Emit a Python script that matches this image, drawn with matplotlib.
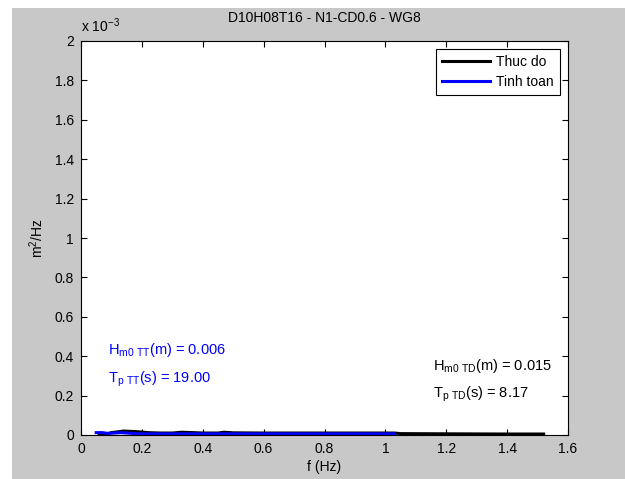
import numpy as np
import matplotlib
matplotlib.use("Agg")
import matplotlib.pyplot as plt
from matplotlib.patches import Rectangle
from matplotlib.ticker import FuncFormatter, MultipleLocator

plt.rcParams['font.family'] = ['Liberation Sans', 'DejaVu Sans']
plt.rcParams['mathtext.fontset'] = 'custom'
plt.rcParams['mathtext.rm'] = 'Liberation Sans'

# measured spectrum (Thuc do)
f_td = [0.06, 0.08, 0.10, 0.12, 0.14, 0.17, 0.20, 0.22, 0.26, 0.30, 0.33, 0.37,
        0.40, 0.45, 0.47, 0.50, 0.60, 0.80, 1.00, 1.03, 1.05, 1.20, 1.40, 1.52]
s_td = [0.0, 4e-6, 1.2e-5, 1.6e-5, 2.0e-5, 1.8e-5, 1.5e-5, 1.2e-5, 1.0e-5, 1.0e-5, 1.4e-5, 1.2e-5,
        1.0e-5, 1.0e-5, 1.4e-5, 1.1e-5, 1.0e-5, 1.0e-5, 1.0e-5, 1.0e-5, 7e-6, 6e-6, 5e-6, 5e-6]

# computed spectrum (Tinh toan)
f_tt = [0.05, 0.07, 0.09, 0.11, 0.13, 0.15, 0.18, 0.20, 0.30, 0.50, 0.70, 0.90, 1.03]
s_tt = [1.2e-5, 1.2e-5, 8e-6, 1.0e-5, 1.2e-5, 1.0e-5, 7e-6, 6e-6, 6e-6, 6e-6, 6e-6, 6e-6, 6e-6]

title = "D10H08T16 - N1-CD0.6 - WG8"
hm0_tt, tp_tt = "0.006", "19.00"
hm0_td, tp_td = "0.015", "8.17"

fs = 10
fig = plt.figure(figsize=(6.25, 4.79), dpi=100, facecolor='white')
fig.patches.append(Rectangle((12 / 625, 0), 1, 1 - 8 / 479, transform=fig.transFigure,
                             facecolor='#c8c8c8', edgecolor='none', zorder=-10))
ax = fig.add_axes([81 / 625, 44 / 479, 487 / 625, 394 / 479])
ax.set_facecolor('white')

ax.plot(f_td, s_td, color='black', lw=2.2, label='Thuc do')
ax.plot(f_tt, s_tt, color='blue', lw=2.2, label='Tinh toan')

ax.set_xlim(0, 1.6)
ax.set_ylim(0, 2e-3)
ax.xaxis.set_major_locator(MultipleLocator(0.2))
ax.yaxis.set_major_locator(MultipleLocator(0.2e-3))
ax.xaxis.set_major_formatter(FuncFormatter(lambda v, p: f"{v:g}"))
ax.yaxis.set_major_formatter(FuncFormatter(lambda v, p: f"{round(v * 1e3, 1):g}"))
ax.tick_params(direction='in', top=True, right=True, labelsize=fs, length=4, width=0.8, pad=5)
for s in ax.spines.values():
    s.set_linewidth(0.8)

ax.set_title(title, fontsize=fs, pad=14)
ax.set_xlabel('f (Hz)', fontsize=fs, labelpad=3)
ax.set_ylabel('m$^2$/Hz', fontsize=fs, labelpad=6)
ax.text(0.0, 1.015, r'x 10$^{-3}$', transform=ax.transAxes, fontsize=fs, va='bottom', ha='left')

afs = 10.5
ax.text(0.09, 4.1e-4, r'H$_{\mathregular{m0\ TT}}$(m) = ' + hm0_tt, color='blue', fontsize=afs)
ax.text(0.09, 2.7e-4, r'T$_{\mathregular{p\ TT}}$(s) = ' + tp_tt, color='blue', fontsize=afs)
ax.text(1.155, 3.3e-4, r'H$_{\mathregular{m0\ TD}}$(m) = ' + hm0_td, color='black', fontsize=afs)
ax.text(1.155, 1.93e-4, r'T$_{\mathregular{p\ TD}}$(s) = ' + tp_td, color='black', fontsize=afs)

leg = ax.legend(loc='upper right', fontsize=fs, fancybox=False, framealpha=1,
                edgecolor='black', handlelength=3.4, borderaxespad=0.55,
                labelspacing=0.45, borderpad=0.45, handletextpad=0.5)
leg.get_frame().set_linewidth(0.8)

fig.savefig('out.png', dpi=100, facecolor=fig.get_facecolor())
